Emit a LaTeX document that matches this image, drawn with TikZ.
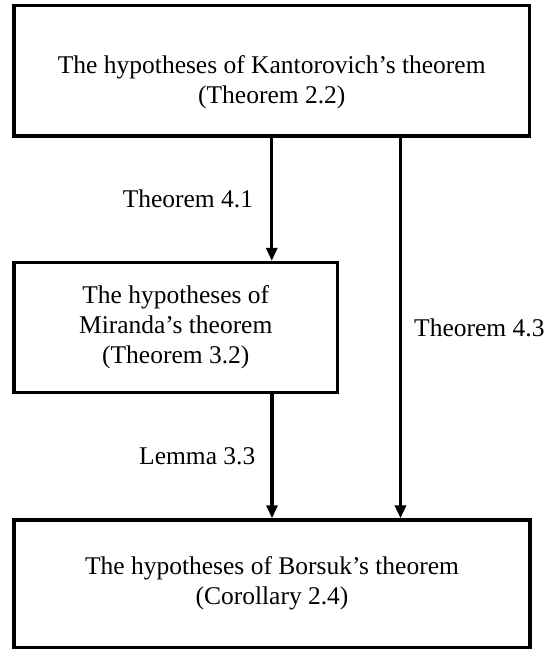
\documentclass[tikz,border=0pt]{standalone}
\usepackage{fontspec}
\setmainfont{Liberation Serif}
\usetikzlibrary{arrows.meta}

\begin{document}
\begin{tikzpicture}
[x=1pt,y=-1pt,
  boxDecorate/.style={shape=rectangle,draw,line width=3.4pt,align=center,inner sep=0pt,
    font=\fontsize{25.5}{30}\selectfont},%
  darkArrow/.style={-{Triangle[width=11pt,length=13pt]},line width=3.4pt},%
  labelDecorate/.style={inner sep=0pt,font=\fontsize{25.5}{30}\selectfont}]
\useasboundingbox (0,0) rectangle (548,650);
%% boxes
\foreach \nodename/\x/\y/\w/\h/\txt in {
  kant/271.75/70.75/515.5/130.5/{\rule{0pt}{41pt}The hypotheses of Kantorovich's theorem\\(Theorem 2.2)},
  mir/175.75/327.5/323.5/130/{The hypotheses of\\Miranda's theorem\\(Theorem 3.2)},
  bors/272/583.75/516/127.5/{The hypotheses of Borsuk's theorem\\(Corollary 2.4)}}
{
  \node (\nodename) at (\x,\y) [boxDecorate,minimum width=\w pt,minimum height=\h pt] {\txt};
}
\coordinate (side) at ([xshift=128.75pt]kant.south);
%% arrows
\draw[darkArrow] (kant) -- node[labelDecorate,left=17pt] {Theorem 4.1} (kant.south |- mir.north);
\draw[darkArrow] (mir.south -| bors.north) -- node[labelDecorate,left=15pt] {Lemma 3.3} (bors.north);
\draw[darkArrow] (side) -- node[labelDecorate,right=12pt] {Theorem 4.3} (side |- bors.north);
\end{tikzpicture}
\end{document}
